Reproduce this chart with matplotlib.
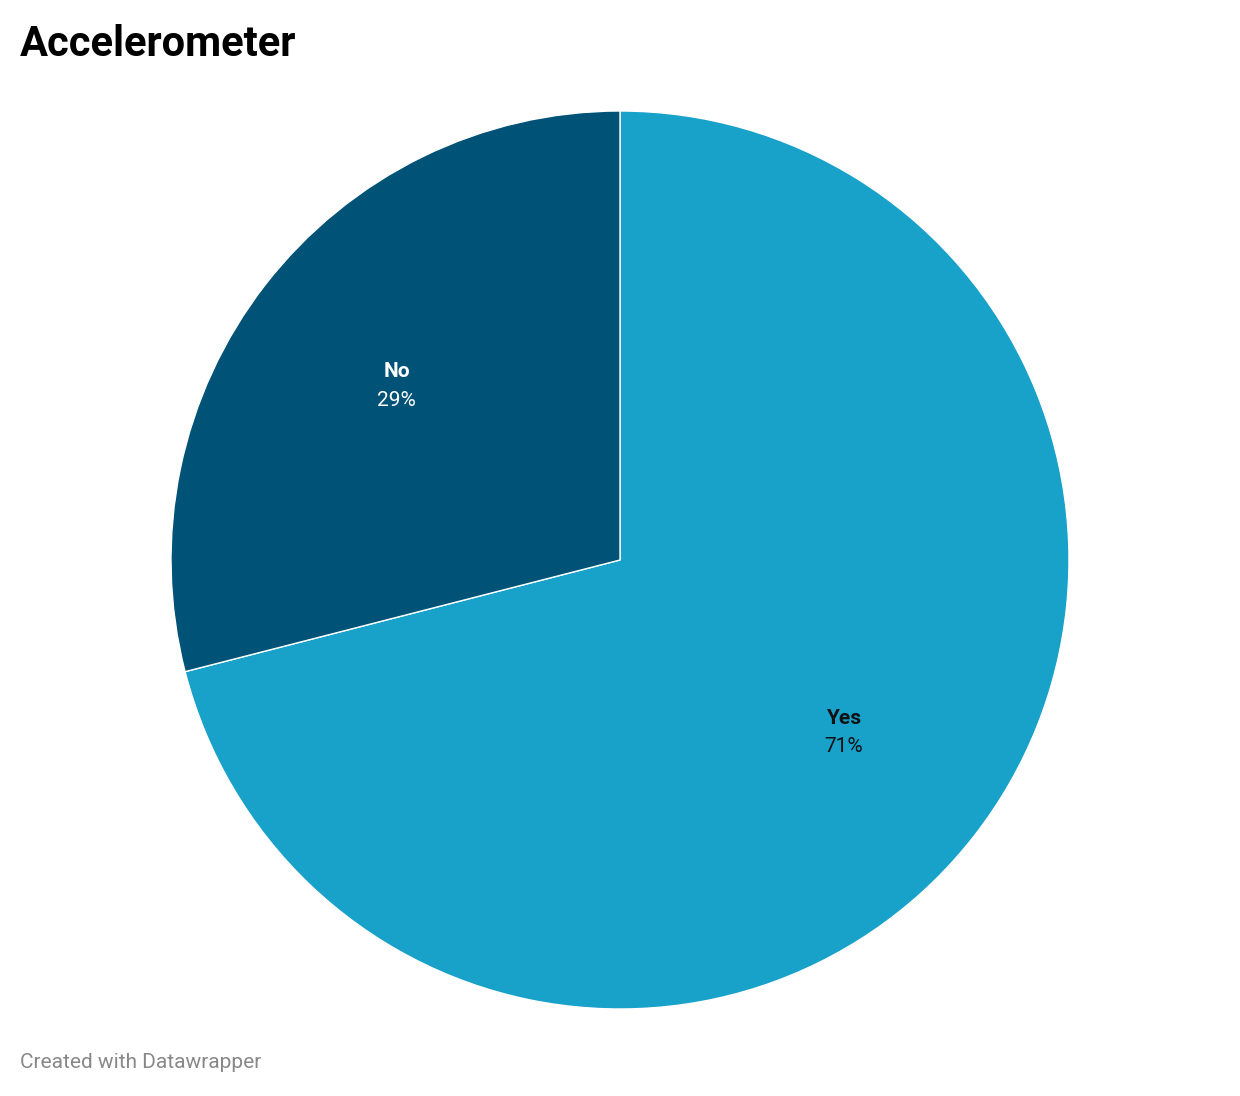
import matplotlib
matplotlib.use("Agg")
import matplotlib.pyplot as plt
import numpy as np

categories = ["Yes", "No"]
values = [71, 29]
colors = ["#18a1c9", "#005277"]
text_colors = ["#111111", "#ffffff"]

plt.rcParams['font.family'] = ['Roboto', 'DejaVu Sans']
fig = plt.figure(figsize=(12.4, 10.96), dpi=100)
ax = fig.add_axes([171/1240, 87/1096, 898/1240, 898/1096])
wedges, _ = ax.pie(values, colors=colors, startangle=90, counterclock=False,
                   radius=1, wedgeprops=dict(edgecolor="white", linewidth=1))
ax.set_xlim(-1, 1); ax.set_ylim(-1, 1); ax.set_aspect("equal")
for w, cat, v, tc in zip(wedges, categories, values, text_colors):
    ang = np.deg2rad((w.theta1 + w.theta2) / 2)
    x, y = 0.63*np.cos(ang), 0.63*np.sin(ang)
    ax.text(x, y + 0.033, cat, ha="center", va="center", fontsize=15, fontweight="bold", color=tc)
    ax.text(x, y - 0.03, f"{v}%", ha="center", va="center", fontsize=15, color=tc)

fig.text(20/1240, 1 - 45/1096, "Accelerometer", fontsize=30, fontweight="bold", va="center", ha="left")
fig.text(20/1240, 1 - 1062/1096, "Created with Datawrapper", fontsize=15, color="#888888", va="center", ha="left")
fig.savefig("out.png", dpi=100, facecolor="white")
